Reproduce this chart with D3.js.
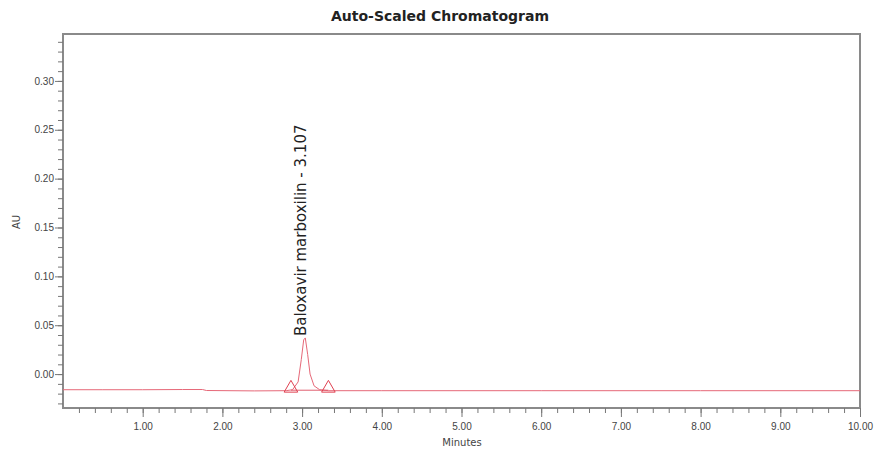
<!DOCTYPE html>
<html>
<head>
<meta charset="utf-8">
<script src="https://cdn.jsdelivr.net/npm/d3@7"></script>
<style>
  body { margin: 0; background: #fff; }
  svg { font-family: "DejaVu Sans", Arial, sans-serif; }
</style>
</head>
<body>
<div class="svg-target"></div>
<script>
// Chart data
const title = 'Auto-Scaled Chromatogram';
const xLabel = 'Minutes';
const yLabel = 'AU';
const peakName = 'Baloxavir marboxilin - 3.107';

const xTicks = [1, 2, 3, 4, 5, 6, 7, 8, 9, 10];
const yTicks = [0.00, 0.05, 0.10, 0.15, 0.20, 0.25, 0.30];

// trace (minutes, AU)
const traceTime = [0.0, 0.5, 1.0, 1.5, 1.75, 1.8, 2.4, 2.8, 2.88, 2.95, 2.99, 3.02, 3.04, 3.07, 3.10, 3.15, 3.22, 3.33, 4.0, 6.0, 8.0, 10.0];
const traceAU =   [-0.016, -0.016, -0.016, -0.0158, -0.0158, -0.0168, -0.0172, -0.017, -0.016, -0.008, 0.015, 0.035, 0.037, 0.02, 0.0, -0.012, -0.016, -0.017, -0.017, -0.017, -0.017, -0.017];

// peak start / end markers
const markTime = [2.86, 3.33];
const markAU = [-0.0165, -0.0165];
const apex = {t: 3.03, au: 0.037};

const w = 878;
const h = 451;
const padding = {t: 34, r: 18, b: 43, l: 63};

const svg = d3.select('.svg-target')
  .append('svg')
  .attr('width', w)
  .attr('height', h);

const xScale = d3.scaleLinear()
  .domain([0, 10])
  .range([padding.l, w - padding.r]);
const yScale = d3.scaleLinear()
  .domain([-0.0347, 0.348])
  .range([h - padding.b, padding.t]);

// title
svg.append('text')
  .attr('x', 440)
  .attr('y', 21)
  .attr('text-anchor', 'middle')
  .attr('font-size', 14)
  .attr('font-weight', 'bold')
  .attr('fill', '#222')
  .text(title);

// frame
svg.append('rect')
  .attr('x', padding.l)
  .attr('y', padding.t)
  .attr('width', w - padding.r - padding.l)
  .attr('height', h - padding.b - padding.t)
  .attr('fill', 'none')
  .attr('stroke', '#8a8a8a')
  .attr('stroke-width', 2);

// x axis: minor ticks then labelled major ticks
const xMinor = d3.range(0.2, 10.001, 0.2);
svg.append('g')
  .attr('transform', `translate(0, ${h - padding.b})`)
  .call(d3.axisBottom(xScale).tickValues(xMinor).tickSize(5).tickFormat(''))
  .call(g => g.select('.domain').remove())
  .call(g => g.selectAll('line').attr('stroke', '#777'));
svg.append('g')
  .attr('transform', `translate(0, ${h - padding.b})`)
  .call(d3.axisBottom(xScale).tickValues(xTicks).tickSize(9).tickFormat(d3.format('.2f')))
  .call(g => g.select('.domain').remove())
  .call(g => g.selectAll('line').attr('stroke', '#777'))
  .call(g => g.selectAll('text').attr('font-size', 10).attr('fill', '#444').attr('dy', '1em'));

// y axis
const yMinor = d3.range(-0.03, 0.345, 0.01);
svg.append('g')
  .attr('transform', `translate(${padding.l}, 0)`)
  .call(d3.axisLeft(yScale).tickValues(yMinor).tickSize(5).tickFormat(''))
  .call(g => g.select('.domain').remove())
  .call(g => g.selectAll('line').attr('stroke', '#777'));
svg.append('g')
  .attr('transform', `translate(${padding.l}, 0)`)
  .call(d3.axisLeft(yScale).tickValues(yTicks).tickSize(8).tickFormat(d3.format('.2f')))
  .call(g => g.select('.domain').remove())
  .call(g => g.selectAll('line').attr('stroke', '#777'))
  .call(g => g.selectAll('text').attr('font-size', 10).attr('fill', '#444').attr('dx', '0.2em'));

// axis labels
svg.append('text')
  .attr('x', 462)
  .attr('y', 446)
  .attr('text-anchor', 'middle')
  .attr('font-size', 10)
  .attr('fill', '#444')
  .text(xLabel);
svg.append('text')
  .attr('transform', `translate(20, 222) rotate(-90)`)
  .attr('text-anchor', 'middle')
  .attr('font-size', 10)
  .attr('fill', '#444')
  .text(yLabel);

// trace
const line = d3.line()
  .x(d => xScale(d[0]))
  .y(d => yScale(d[1]));
svg.append('path')
  .datum(traceTime.map((t, i) => [t, traceAU[i]]))
  .attr('d', line)
  .attr('fill', 'none')
  .attr('stroke', '#e66878')
  .attr('stroke-width', 1);

// peak baseline
svg.append('path')
  .datum(markTime.map((t, i) => [t, markAU[i]]))
  .attr('d', line)
  .attr('fill', 'none')
  .attr('stroke', '#e06070')
  .attr('stroke-width', 1);

// peak markers
svg.selectAll('.mark')
  .data(markTime.map((t, i) => [t, markAU[i]]))
  .enter().append('path')
  .attr('class', 'mark')
  .attr('transform', d => `translate(${xScale(d[0])}, ${yScale(d[1]) - 2})`)
  .attr('d', d3.symbol(d3.symbolTriangle, 80))
  .attr('fill', 'none')
  .attr('stroke', '#e04050')
  .attr('stroke-width', 1);

// peak label
svg.append('text')
  .attr('transform', `translate(${xScale(apex.t) + 2}, ${yScale(apex.au) - 2}) rotate(-90)`)
  .attr('text-anchor', 'start')
  .attr('font-size', 15)
  .attr('fill', '#222')
  .text(peakName);
</script>
</body>
</html>
